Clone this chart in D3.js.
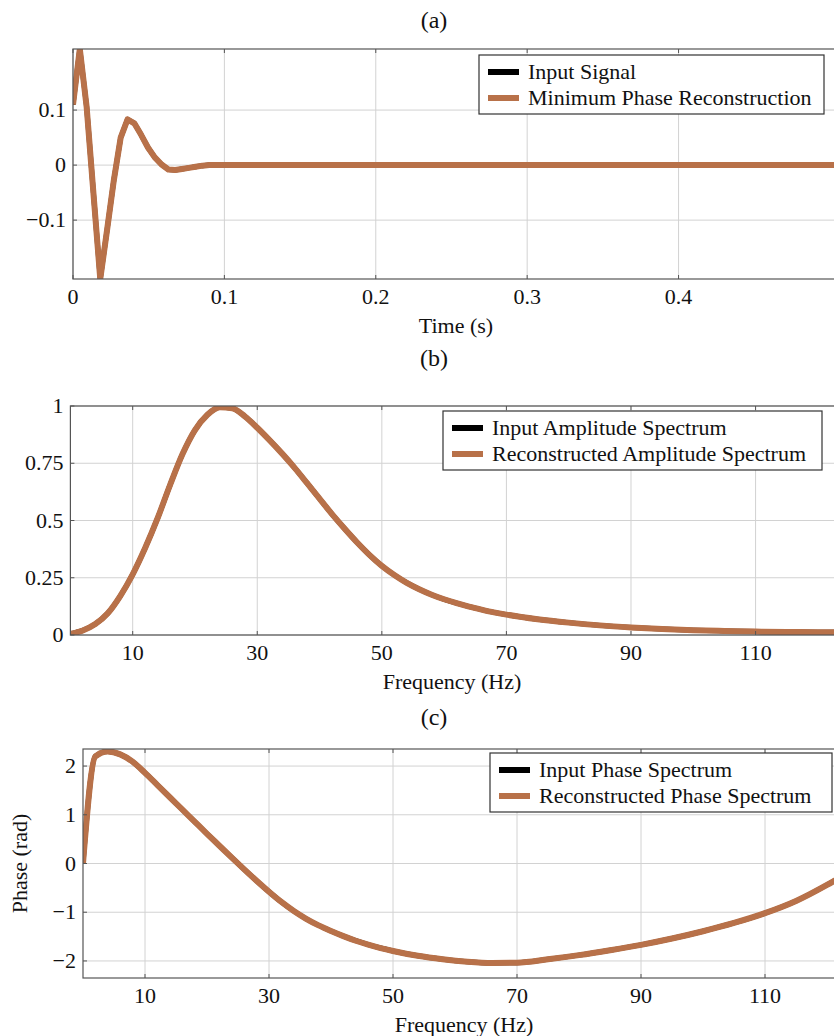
<!DOCTYPE html>
<html>
<head>
<meta charset="utf-8">
<script src="https://cdn.jsdelivr.net/npm/d3@7"></script>
<style>
  body { margin: 0; background: #fff; }
  svg { display: block; }
  text { font-family: "Liberation Serif", "DejaVu Serif", serif; fill: #111; }
</style>
</head>
<body>
<svg id="chart" width="834" height="1036"></svg>
<script>
// (a) time signal
const timeS = [0, 0.0045, 0.009, 0.0135, 0.018, 0.0225, 0.027, 0.0315, 0.036, 0.0405, 0.045,
  0.0495, 0.054, 0.0585, 0.063, 0.0675, 0.072, 0.0765, 0.081, 0.0855, 0.09, 0.1, 0.51];
const signalIn = [0.11, 0.211, 0.106, -0.051, -0.207, -0.118, -0.027, 0.05, 0.083, 0.076, 0.055,
  0.032, 0.014, 0.001, -0.008, -0.009, -0.007, -0.005, -0.003, -0.001, 0, 0, 0];
const signalRec = signalIn.slice();

// (b) amplitude spectrum
const freqAmp = [0, 2, 4, 6, 8, 10, 12, 14, 16, 18, 20, 22, 24, 26, 28, 30, 32, 34, 36, 38, 40,
  42, 44, 46, 48, 50, 52, 54, 56, 58, 60, 62, 64, 66, 68, 70, 75, 80, 85, 90, 95, 100, 105, 110,
  115, 120, 125];
const ampIn = [0.005, 0.02, 0.048, 0.095, 0.17, 0.265, 0.38, 0.51, 0.655, 0.79, 0.895, 0.962,
  0.995, 0.99, 0.955, 0.905, 0.85, 0.792, 0.73, 0.663, 0.595, 0.528, 0.465, 0.405, 0.35, 0.302,
  0.262, 0.228, 0.2, 0.176, 0.156, 0.139, 0.124, 0.111, 0.099, 0.089, 0.069, 0.054, 0.042, 0.033,
  0.026, 0.021, 0.018, 0.015, 0.013, 0.012, 0.011];
const ampRec = ampIn.slice();

// (c) phase spectrum
const freqPh = [0, 2, 4, 6, 8, 10, 12, 14, 16, 18, 20, 22, 24, 26, 28, 30, 32, 34, 36, 38, 40,
  42, 44, 46, 48, 50, 54, 58, 62, 66, 70, 75, 80, 85, 90, 95, 100, 105, 110, 115, 120, 125];
const phaseIn = [0, 2.2, 2.3, 2.24, 2.09, 1.86, 1.61, 1.36, 1.11, 0.86, 0.61, 0.365, 0.12, -0.12,
  -0.355, -0.58, -0.79, -0.975, -1.135, -1.27, -1.385, -1.49, -1.585, -1.665, -1.735, -1.795,
  -1.895, -1.965, -2.015, -2.04, -2.035, -1.965, -1.88, -1.78, -1.67, -1.54, -1.39, -1.22, -1.02,
  -0.77, -0.44, -0.06];
const phaseRec = phaseIn.slice();

const timeTicks = [0, 0.1, 0.2, 0.3, 0.4];
const ampTicksY = [0, 0.25, 0.5, 0.75, 1];
const freqTicks = [10, 30, 50, 70, 90, 110];
const phaseTicksY = [-2, -1, 0, 1, 2];

const colIn = "#000000";
const colRec = "#b87149";
const svg = d3.select("#chart");
const fmtMinus = s => String(s).replace("-", "\u2212");

function panel(o, idx) {
  const g = svg.append("g");
  const x = d3.scaleLinear().domain(o.xDomain).range([o.left, o.right]);
  const y = d3.scaleLinear().domain(o.yDomain).range([o.bottom, o.top]);

  g.append("text").attr("x", 434).attr("y", o.titleY).attr("text-anchor", "middle")
    .style("font-size", "24px").text(o.title);

  // grid
  g.selectAll(".gx").data(o.xTicks).enter().append("line")
    .attr("x1", d => x(d)).attr("x2", d => x(d)).attr("y1", o.top).attr("y2", o.bottom)
    .attr("stroke", "#d2d2d2").attr("stroke-width", 1);
  g.selectAll(".gy").data(o.yTicks).enter().append("line")
    .attr("x1", o.left).attr("x2", o.right).attr("y1", d => y(d)).attr("y2", d => y(d))
    .attr("stroke", "#d2d2d2").attr("stroke-width", 1);

  // curves, clipped to the axis box
  const clipId = "clip" + idx;
  g.append("clipPath").attr("id", clipId).append("rect")
    .attr("x", o.left).attr("y", o.top).attr("width", o.right - o.left).attr("height", o.bottom - o.top);
  const line = d3.line().x(d => x(d[0])).y(d => y(d[1])).curve(o.curve);
  const series = [[o.yIn, colIn, 5], [o.yRec, colRec, 6]];
  series.forEach(([vals, col, w]) => {
    g.append("path").datum(o.xs.map((v, i) => [v, vals[i]]))
      .attr("clip-path", `url(#${clipId})`)
      .attr("fill", "none").attr("stroke", col).attr("stroke-width", w)
      .attr("stroke-linejoin", "round").attr("d", line);
  });

  // frame and inward ticks
  g.append("rect").attr("x", o.left).attr("y", o.top)
    .attr("width", o.right - o.left).attr("height", o.bottom - o.top)
    .attr("fill", "none").attr("stroke", "#555").attr("stroke-width", 1.2);
  o.xTicks.forEach(t => {
    g.append("line").attr("x1", x(t)).attr("x2", x(t)).attr("y1", o.bottom).attr("y2", o.bottom - 4)
      .attr("stroke", "#555");
    g.append("line").attr("x1", x(t)).attr("x2", x(t)).attr("y1", o.top).attr("y2", o.top + 4)
      .attr("stroke", "#555");
  });
  o.yTicks.forEach(t => {
    g.append("line").attr("x1", o.left).attr("x2", o.left + 4).attr("y1", y(t)).attr("y2", y(t))
      .attr("stroke", "#555");
  });

  // tick labels
  g.selectAll(".xl").data(o.xTicks).enter().append("text")
    .attr("x", d => x(d)).attr("y", o.bottom + 25).attr("text-anchor", "middle")
    .style("font-size", "22px").text(d => fmtMinus(d));
  g.selectAll(".yl").data(o.yTicks).enter().append("text")
    .attr("x", o.left - 7).attr("y", d => y(d) + 7).attr("text-anchor", "end")
    .style("font-size", "22px").text(d => fmtMinus(d));

  // axis labels
  g.append("text").attr("x", o.xLabelX).attr("y", o.bottom + 54).attr("text-anchor", "middle")
    .style("font-size", "22px").text(o.xLabel);
  if (o.yLabel) {
    g.append("text").attr("transform", `translate(27,${(o.top + o.bottom) / 2}) rotate(-90)`)
      .attr("text-anchor", "middle").style("font-size", "22px").text(o.yLabel);
  }

  // legend
  const L = o.legend;
  g.append("rect").attr("x", L.x).attr("y", L.y).attr("width", L.w).attr("height", 59)
    .attr("fill", "#fff").attr("stroke", "#333").attr("stroke-width", 1.2);
  [[L.names[0], colIn], [L.names[1], colRec]].forEach(([name, col], i) => {
    const cy = L.y + 17 + i * 26;
    g.append("line").attr("x1", L.x + 9).attr("x2", L.x + 40).attr("y1", cy).attr("y2", cy)
      .attr("stroke", col).attr("stroke-width", 6);
    g.append("text").attr("x", L.x + 49).attr("y", cy + 7).style("font-size", "22px").text(name);
  });
}

panel({
  title: "(a)", titleY: 28, top: 49, bottom: 279, left: 73, right: 836,
  xDomain: [0, 0.504], yDomain: [-0.207, 0.211],
  xTicks: timeTicks, yTicks: [-0.1, 0, 0.1],
  xs: timeS, yIn: signalIn, yRec: signalRec, curve: d3.curveLinear,
  xLabel: "Time (s)", xLabelX: 456,
  legend: { x: 479, y: 55, w: 345, names: ["Input Signal", "Minimum Phase Reconstruction"] }
}, 0);

panel({
  title: "(b)", titleY: 366, top: 406, bottom: 635, left: 70.4, right: 849,
  xDomain: [0, 125], yDomain: [0, 1],
  xTicks: freqTicks, yTicks: ampTicksY,
  xs: freqAmp, yIn: ampIn, yRec: ampRec, curve: d3.curveMonotoneX,
  xLabel: "Frequency (Hz)", xLabelX: 452,
  legend: { x: 443, y: 411, w: 379, names: ["Input Amplitude Spectrum", "Reconstructed Amplitude Spectrum"] }
}, 1);

panel({
  title: "(c)", titleY: 725, top: 749, bottom: 978, left: 83, right: 858,
  xDomain: [0, 125], yDomain: [-2.35, 2.35],
  xTicks: freqTicks, yTicks: phaseTicksY,
  xs: freqPh, yIn: phaseIn, yRec: phaseRec, curve: d3.curveMonotoneX,
  xLabel: "Frequency (Hz)", xLabelX: 464, yLabel: "Phase (rad)",
  legend: { x: 490, y: 753, w: 342, names: ["Input Phase Spectrum", "Reconstructed Phase Spectrum"] }
}, 2);
</script>
</body>
</html>
